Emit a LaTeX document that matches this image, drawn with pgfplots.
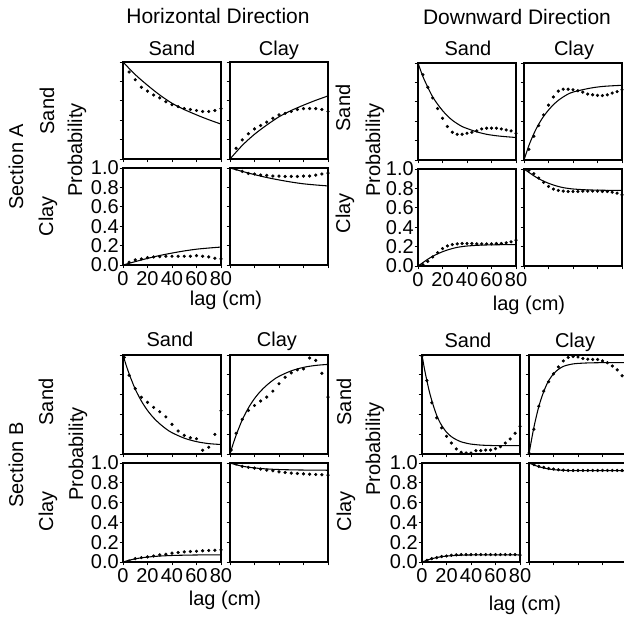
\documentclass[border=0pt]{standalone}
\usepackage{fontspec}
\setmainfont{Liberation Sans}
\usepackage{pgfplots}
\pgfplotsset{compat=1.18}

\pgfplotsset{
  panel/.style={
    scale only axis, width=73.5pt, height=72.75pt, anchor=north west,
    xmin=0, xmax=80, ymin=0, ymax=1,
    xtick={0,20,40,60,80}, ytick={0,0.2,0.4,0.6,0.8,1},
    xticklabels={}, yticklabels={},
    tick pos=left, tick align=outside, major tick length=2.5pt,
    tick style={black, line width=0.6pt},
    axis line style={line width=0.8pt},
    clip=false,
    tick label style={font=\fontsize{15}{15}\selectfont},
    xticklabel style={inner ysep=2pt},
    yticklabel style={inner xsep=0.5pt},
  },
  tall/.style={height=74.25pt},
  labeled/.style={xticklabels={0,20,40,60,80},
    yticklabels={0.0,0.2,0.4,0.6,0.8,1.0}},
  fit/.style={black, line width=0.8pt, smooth, mark=none},
  obs/.style={black, only marks, mark=*, mark size=1pt},
  base/.style={black, line width=1.6pt, mark=none},
}
\tikzset{lbl/.style={text height=11pt, text depth=3.2pt, inner sep=0pt}}

\begin{document}
\begin{tikzpicture}[font=\fontsize{15}{18}\selectfont]
\useasboundingbox (0,0) rectangle (468pt,-462.75pt);
\clip (0,0) rectangle (468pt,-462.75pt);

% ---------- Section A, horizontal ----------
\begin{axis}[panel, at={(92.25pt,-46.5pt)}]
\addplot[base] coordinates {(0,0)(40,0)};
\addplot[fit] coordinates {(0,1)(10,0.87)(20,0.76)(30,0.66)(40,0.575)(50,0.51)(60,0.455)(70,0.405)(80,0.36)};
\addplot[obs] coordinates {(5,0.897)(10,0.817)(15,0.74)(20,0.70)(25,0.66)(30,0.63)(35,0.59)(40,0.56)(45,0.54)(50,0.52)(55,0.51)(60,0.50)(65,0.49)(70,0.49)(75,0.50)(80,0.52)};
\end{axis}
\begin{axis}[panel, at={(172.5pt,-46.5pt)}]
\addplot[base] coordinates {(0,0)(40,0)};
\addplot[fit] coordinates {(0,0)(10,0.14)(20,0.255)(30,0.35)(40,0.435)(50,0.50)(60,0.555)(70,0.605)(80,0.65)};
\addplot[obs] coordinates {(5,0.11)(10,0.197)(15,0.26)(20,0.31)(25,0.345)(30,0.38)(35,0.42)(40,0.455)(45,0.47)(50,0.49)(55,0.51)(60,0.52)(65,0.52)(70,0.52)(75,0.51)(80,0.49)};
\end{axis}
\begin{axis}[panel, labeled, at={(92.25pt,-126pt)}]
\addplot[base] coordinates {(0,0)(40,0)};
\addplot[fit] coordinates {(0,0)(10,0.035)(20,0.068)(30,0.098)(40,0.123)(50,0.145)(60,0.163)(70,0.175)(80,0.185)};
\addplot[obs] coordinates {(5,0.028)(10,0.052)(15,0.063)(20,0.076)(25,0.083)(30,0.087)(35,0.09)(40,0.09)(45,0.09)(50,0.09)(55,0.09)(60,0.097)(65,0.09)(70,0.083)(75,0.07)(80,0.063)};
\end{axis}
\begin{axis}[panel, at={(172.5pt,-126pt)}]
\addplot[base] coordinates {(0,0)(40,0)};
\addplot[fit] coordinates {(0,1)(10,0.965)(20,0.932)(30,0.902)(40,0.877)(50,0.855)(60,0.837)(70,0.825)(80,0.815)};
\addplot[obs] coordinates {(5,0.99)(10,0.965)(15,0.944)(20,0.938)(25,0.927)(30,0.924)(35,0.917)(40,0.917)(45,0.913)(50,0.913)(55,0.913)(60,0.917)(65,0.917)(70,0.927)(75,0.938)(80,0.948)};
\end{axis}

% ---------- Section A, downward ----------
\begin{axis}[panel, at={(313.5pt,-47.25pt)}]
\addplot[base] coordinates {(0,0)(40,0)};
\addplot[fit] coordinates {(0,1)(4,0.86)(8,0.75)(12,0.65)(16,0.575)(20,0.51)(24,0.455)(28,0.41)(32,0.375)(36,0.345)(40,0.325)(48,0.29)(56,0.265)(64,0.25)(72,0.24)(80,0.232)};
\addplot[obs] coordinates {(4,0.88)(8,0.75)(12,0.64)(16,0.53)(20,0.43)(24,0.345)(28,0.286)(32,0.265)(36,0.265)(40,0.276)(44,0.286)(48,0.30)(52,0.32)(56,0.328)(60,0.328)(64,0.328)(68,0.32)(72,0.31)(76,0.30)(80,0.276)};
\end{axis}
\begin{axis}[panel, at={(393pt,-47.25pt)}]
\addplot[base] coordinates {(0,0)(40,0)};
\addplot[fit] coordinates {(0,0)(4,0.15)(8,0.27)(12,0.37)(16,0.45)(20,0.515)(24,0.57)(28,0.615)(32,0.65)(36,0.68)(40,0.70)(48,0.725)(56,0.745)(64,0.758)(72,0.765)(80,0.77)};
\addplot[obs] coordinates {(4,0.11)(8,0.245)(12,0.355)(16,0.465)(20,0.565)(24,0.65)(28,0.71)(32,0.73)(36,0.73)(40,0.724)(44,0.714)(48,0.70)(52,0.68)(56,0.672)(60,0.666)(64,0.664)(68,0.672)(72,0.69)(76,0.705)(80,0.724)};
\end{axis}
\begin{axis}[panel, labeled, at={(313.5pt,-126.75pt)}]
\addplot[base] coordinates {(0,0)(40,0)};
\addplot[fit] coordinates {(0,0)(4,0.035)(8,0.07)(12,0.1)(16,0.125)(20,0.147)(24,0.165)(28,0.18)(32,0.192)(36,0.2)(40,0.206)(48,0.213)(56,0.217)(64,0.219)(72,0.22)(80,0.22)};
\addplot[obs] coordinates {(4,0.014)(8,0.048)(12,0.093)(16,0.138)(20,0.18)(24,0.207)(28,0.221)(32,0.228)(36,0.232)(40,0.232)(44,0.232)(48,0.228)(52,0.228)(56,0.228)(60,0.228)(64,0.232)(68,0.232)(72,0.239)(76,0.249)(80,0.266)};
\end{axis}
\begin{axis}[panel, at={(393pt,-126.75pt)}]
\addplot[base] coordinates {(0,0)(40,0)};
\addplot[fit] coordinates {(0,1)(4,0.965)(8,0.93)(12,0.9)(16,0.875)(20,0.853)(24,0.835)(28,0.82)(32,0.808)(36,0.80)(40,0.794)(48,0.787)(56,0.783)(64,0.781)(72,0.78)(80,0.78)};
\addplot[obs] coordinates {(4,0.986)(8,0.952)(12,0.907)(16,0.862)(20,0.82)(24,0.793)(28,0.779)(32,0.772)(36,0.768)(40,0.768)(44,0.768)(48,0.772)(52,0.772)(56,0.772)(60,0.772)(64,0.768)(68,0.768)(72,0.761)(76,0.751)(80,0.734)};
\end{axis}

% ---------- Section B, horizontal ----------
\begin{axis}[panel, tall, at={(92.25pt,-266.25pt)}]
\addplot[base] coordinates {(0,0)(40,0)};
\addplot[fit] coordinates {(0,1)(2.5,0.9)(5,0.81)(7.5,0.73)(10,0.655)(15,0.535)(20,0.44)(25,0.365)(30,0.305)(35,0.255)(40,0.215)(50,0.16)(60,0.125)(70,0.105)(80,0.096)};
\addplot[obs] coordinates {(1,0.976)(5,0.795)(10,0.66)(15,0.573)(20,0.522)(25,0.471)(30,0.427)(35,0.375)(40,0.30)(45,0.232)(50,0.188)(55,0.164)(60,0.154)(65,0.038)(70,0.068)(75,0.198)(80,0.437)};
\end{axis}
\begin{axis}[panel, tall, at={(172.5pt,-266.25pt)}]
\addplot[base] coordinates {(0,0)(40,0)};
\addplot[fit] coordinates {(0,0)(2.5,0.1)(5,0.19)(7.5,0.27)(10,0.345)(15,0.465)(20,0.56)(25,0.635)(30,0.695)(35,0.745)(40,0.785)(50,0.84)(60,0.875)(70,0.895)(80,0.905)};
\addplot[obs] coordinates {(1,0.04)(5,0.21)(10,0.35)(15,0.44)(20,0.49)(25,0.535)(30,0.575)(35,0.635)(40,0.71)(45,0.775)(50,0.82)(55,0.85)(60,0.86)(65,0.97)(70,0.945)(75,0.815)(80,0.575)};
\end{axis}
\begin{axis}[panel, tall, labeled, at={(92.25pt,-347.25pt)}]
\addplot[base] coordinates {(0,0)(40,0)};
\addplot[fit] coordinates {(0,0)(5,0.018)(10,0.032)(15,0.042)(20,0.05)(30,0.06)(40,0.066)(50,0.069)(60,0.071)(70,0.072)(80,0.073)};
\addplot[obs] coordinates {(5,0.01)(10,0.034)(15,0.044)(20,0.051)(25,0.061)(30,0.072)(35,0.078)(40,0.089)(45,0.096)(50,0.102)(55,0.106)(60,0.109)(65,0.113)(70,0.116)(75,0.119)(80,0.123)};
\end{axis}
\begin{axis}[panel, tall, at={(172.5pt,-347.25pt)}]
\addplot[base] coordinates {(0,0)(40,0)};
\addplot[fit] coordinates {(0,1)(5,0.982)(10,0.968)(15,0.958)(20,0.95)(30,0.94)(40,0.934)(50,0.931)(60,0.929)(80,0.927)};
\addplot[obs] coordinates {(5,0.99)(10,0.966)(15,0.956)(20,0.949)(25,0.939)(30,0.928)(35,0.922)(40,0.911)(45,0.904)(50,0.898)(55,0.894)(60,0.891)(65,0.887)(70,0.884)(75,0.881)(80,0.877)};
\end{axis}

% ---------- Section B, downward ----------
\begin{axis}[panel, tall, at={(316.5pt,-266.25pt)}]
\addplot[base] coordinates {(0,0)(40,0)};
\addplot[fit] coordinates {(0,1)(2,0.86)(4,0.74)(6,0.63)(8,0.54)(10,0.46)(12,0.39)(14,0.335)(16,0.29)(20,0.22)(24,0.175)(28,0.145)(32,0.123)(36,0.11)(40,0.1)(48,0.09)(56,0.086)(64,0.084)(80,0.084)};
\addplot[obs] coordinates {(0,0.99)(4,0.743)(8,0.517)(12,0.365)(16,0.264)(20,0.179)(24,0.111)(28,0.051)(32,0.017)(36,0.01)(40,0.01)(44,0.034)(48,0.034)(52,0.04)(56,0.04)(60,0.054)(64,0.074)(68,0.111)(72,0.152)(76,0.21)(80,0.28)};
\end{axis}
\begin{axis}[panel, tall, at={(396.75pt,-266.25pt)}]
\addplot[base] coordinates {(0,0)(40,0)};
\addplot[fit] coordinates {(0,0)(2,0.14)(4,0.27)(6,0.38)(8,0.48)(10,0.56)(12,0.63)(14,0.69)(16,0.74)(20,0.81)(24,0.855)(28,0.885)(32,0.9)(36,0.91)(40,0.915)(48,0.92)(56,0.922)(64,0.923)(80,0.923)};
\addplot[obs] coordinates {(0,0.01)(4,0.25)(8,0.483)(12,0.635)(16,0.73)(20,0.81)(24,0.88)(28,0.94)(32,0.975)(36,0.985)(40,0.98)(44,0.965)(48,0.958)(52,0.955)(56,0.955)(60,0.94)(64,0.922)(68,0.889)(72,0.85)(76,0.79)(80,0.72)};
\end{axis}
\begin{axis}[panel, tall, labeled, at={(316.5pt,-347.25pt)}]
\addplot[base] coordinates {(0,0)(40,0)};
\addplot[fit] coordinates {(0,0)(4,0.018)(8,0.033)(12,0.045)(16,0.054)(20,0.06)(24,0.064)(28,0.067)(32,0.069)(40,0.071)(48,0.072)(80,0.072)};
\addplot[obs] coordinates {(4,0.017)(8,0.034)(12,0.044)(16,0.055)(20,0.061)(24,0.068)(28,0.072)(32,0.075)(36,0.075)(40,0.075)(44,0.075)(48,0.075)(52,0.075)(56,0.075)(60,0.075)(64,0.075)(68,0.075)(72,0.075)(76,0.075)(80,0.07)};
\end{axis}
\begin{axis}[panel, tall, at={(396.75pt,-347.25pt)}]
\addplot[base] coordinates {(0,0)(40,0)};
\addplot[fit] coordinates {(0,1)(4,0.98)(8,0.963)(12,0.95)(16,0.94)(20,0.933)(24,0.929)(28,0.926)(32,0.924)(40,0.923)(80,0.922)};
\addplot[obs] coordinates {(4,0.983)(8,0.966)(12,0.956)(16,0.945)(20,0.939)(24,0.932)(28,0.928)(32,0.925)(36,0.925)(40,0.925)(44,0.925)(48,0.925)(52,0.925)(56,0.925)(60,0.925)(64,0.925)(68,0.925)(72,0.925)(76,0.925)(80,0.925)};
\end{axis}

% ---------- titles and labels ----------
\node[lbl, font=\fontsize{15.75}{18}\selectfont] at (163.5pt,-13.5pt) {Horizontal Direction};
\node[lbl, font=\fontsize{15.75}{18}\selectfont] at (387.75pt,-14.25pt) {Downward Direction};

\node[lbl] at (129pt,-37.5pt) {Sand};
\node[lbl] at (209.25pt,-37.5pt) {Clay};
\node[lbl] at (351pt,-37.5pt) {Sand};
\node[lbl] at (430.5pt,-37.5pt) {Clay};
\node[lbl] at (127.5pt,-255.75pt) {Sand};
\node[lbl] at (207.75pt,-255.75pt) {Clay};
\node[lbl] at (351pt,-256.5pt) {Sand};
\node[lbl] at (431.25pt,-256.5pt) {Clay};

\node[lbl, rotate=90] at (13.5pt,-125pt) {Section A};
\node[lbl, rotate=90] at (13.5pt,-348.75pt) {Section B};

\node[lbl, rotate=90] at (36.75pt,-83.25pt) {Sand};
\node[lbl, rotate=90] at (36pt,-162pt) {Clay};
\node[lbl, rotate=90] at (258.75pt,-81pt) {Sand};
\node[lbl, rotate=90] at (258.75pt,-159.75pt) {Clay};
\node[lbl, rotate=90] at (36pt,-301.5pt) {Sand};
\node[lbl, rotate=90] at (36pt,-383.25pt) {Clay};
\node[lbl, rotate=90] at (259.5pt,-301.5pt) {Sand};
\node[lbl, rotate=90] at (259.5pt,-383.25pt) {Clay};

\node[lbl, rotate=90] at (57.75pt,-112.5pt) {Probability};
\node[lbl, rotate=90] at (281.25pt,-112.5pt) {Probability};
\node[lbl, rotate=90] at (58.5pt,-340.5pt) {Probability};
\node[lbl, rotate=90] at (281.25pt,-336.75pt) {Probability};

\node[lbl] at (169.5pt,-225pt) {lag (cm)};
\node[lbl] at (396.75pt,-228.75pt) {lag (cm)};
\node[lbl] at (168.75pt,-450pt) {lag (cm)};
\node[lbl] at (393.75pt,-453.75pt) {lag (cm)};
\end{tikzpicture}
\end{document}
